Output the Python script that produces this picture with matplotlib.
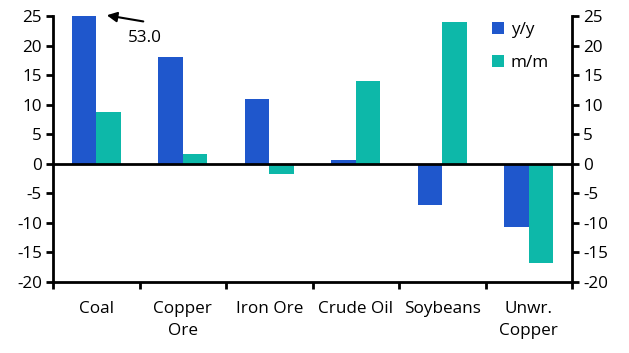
import matplotlib
matplotlib.use("Agg")
import matplotlib.pyplot as plt
import numpy as np

categories = ["Coal", "Copper\nOre", "Iron Ore", "Crude Oil", "Soybeans", "Unwr.\nCopper"]
yy = [53.0, 18.0, 11.0, 0.6, -7.0, -10.7]
mm = [8.7, 1.7, -1.8, 14.0, 24.0, -16.7]
yticks = [-20, -15, -10, -5, 0, 5, 10, 15, 20, 25]

blue = "#1F57CC"
teal = "#0DB8A9"

plt.rcParams['font.family'] = ['Open Sans', 'DejaVu Sans']
plt.rcParams['axes.unicode_minus'] = False
fs = 12.3
fig = plt.figure(figsize=(6.29, 3.53), dpi=100)
ax = fig.add_axes([0.0843, 0.2011, 0.8251, 0.7536])

x = np.arange(len(categories))
w = 0.283
ax.bar(x - w/2, yy, w, color=blue, label="y/y")
ax.bar(x + w/2, mm, w, color=teal, label="m/m")

ax.set_xlim(-0.5, len(categories) - 0.5)
ax.set_ylim(-20, 25)
ax.set_yticks(yticks)
ax.tick_params(axis='y', labelsize=fs, width=2, length=5, direction='out',
               right=True, labelright=True, pad=3)
ax.set_xticks(x)
ax.set_xticklabels(categories, fontsize=fs, linespacing=1.5)
ax.set_xticks(np.arange(-0.5, len(categories)), minor=True)
ax.tick_params(axis='x', which='major', length=0, pad=14)
ax.tick_params(axis='x', which='minor', length=5, width=2, direction='out')
for s in ['left', 'right', 'bottom']:
    ax.spines[s].set_linewidth(2)
ax.spines['top'].set_visible(False)
ax.axhline(0, color='black', lw=2)

ax.annotate("", xy=(0.09, 25.2), xytext=(0.575, 24.0),
            arrowprops=dict(arrowstyle="-|>", color="black", lw=1.5, mutation_scale=15),
            annotation_clip=False)
ax.text(0.56, 21.3, "53.0", fontsize=fs, ha='center', va='center')

ax.legend(loc='upper right', bbox_to_anchor=(0.985, 1.035), frameon=False, fontsize=fs,
          handlelength=0.7, handleheight=0.7, handletextpad=0.4, labelspacing=1.0)

fig.savefig("out.png", dpi=100)
